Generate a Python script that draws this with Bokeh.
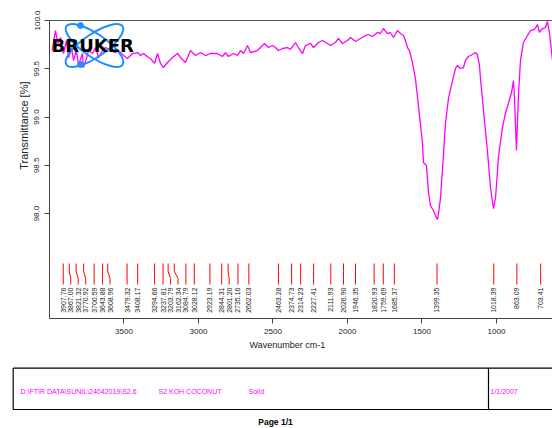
import math
from bokeh.plotting import figure
from bokeh.models import Range1d, LinearAxis, FixedTicker, Title, PrintfTickFormatter
from bokeh.layouts import column
from bokeh.embed import file_html
from bokeh.resources import INLINE
from bokeh.core.properties import value

# ---------------- data ----------------
wavenumber = [3982, 3960, 3944, 3926, 3906, 3886, 3872, 3852, 3839, 3819, 3805, 3779, 3772, 3752,
              3738, 3711, 3691, 3671, 3644, 3624, 3591, 3557, 3537, 3503, 3477, 3443, 3409, 3389,
              3369, 3336, 3322, 3295, 3275, 3255, 3235, 3208, 3175, 3141, 3121, 3087, 3054, 3020,
              2986, 2953, 2920, 2873, 2839, 2819, 2799, 2765, 2738, 2718, 2698, 2671, 2651, 2604,
              2584, 2557, 2530, 2503, 2483, 2463, 2436, 2403, 2383, 2349, 2329, 2302, 2282, 2248,
              2228, 2195, 2168, 2134, 2114, 2081, 2061, 2034, 2000, 1980, 1946, 1913, 1879, 1859,
              1832, 1799, 1779, 1759, 1732, 1712, 1691, 1665, 1644, 1624, 1611, 1597, 1584, 1564,
              1544, 1524, 1497, 1490, 1470, 1456, 1443, 1423, 1410, 1396, 1389, 1376, 1356, 1342,
              1322, 1295, 1275, 1262, 1242, 1222, 1208, 1188, 1161, 1141, 1128, 1114, 1108, 1087,
              1061, 1040, 1020, 1006, 987, 960, 940, 920, 899, 886, 879, 866, 852, 839, 819, 792,
              772, 745, 725, 712, 691, 671, 658, 644, 624]
transmittance = [99.689, 99.896, 99.762, 99.824, 99.658, 99.793, 99.617, 99.720, 99.586, 99.689,
                 99.534, 99.658, 99.513, 99.606, 99.689, 99.658, 99.720, 99.617, 99.689, 99.720,
                 99.689, 99.668, 99.689, 99.637, 99.606, 99.658, 99.668, 99.637, 99.658, 99.617,
                 99.606, 99.555, 99.658, 99.555, 99.513, 99.565, 99.617, 99.658, 99.617, 99.565,
                 99.689, 99.637, 99.668, 99.637, 99.658, 99.658, 99.627, 99.668, 99.627, 99.658,
                 99.637, 99.689, 99.658, 99.741, 99.668, 99.689, 99.720, 99.762, 99.720, 99.741,
                 99.720, 99.689, 99.710, 99.720, 99.700, 99.772, 99.720, 99.658, 99.741, 99.762,
                 99.720, 99.772, 99.793, 99.762, 99.741, 99.772, 99.814, 99.762, 99.793, 99.824,
                 99.782, 99.814, 99.845, 99.855, 99.834, 99.876, 99.865, 99.917, 99.865, 99.876,
                 99.824, 99.896, 99.865, 99.845, 99.793, 99.720, 99.689, 99.565, 99.399, 99.119,
                 98.736, 98.529, 98.498, 98.218, 98.083, 98.032, 97.980, 97.938, 98.001, 98.156,
                 98.601, 98.943, 99.192, 99.378, 99.503, 99.534, 99.503, 99.513, 99.586, 99.627,
                 99.648, 99.668, 99.648, 99.534, 99.409, 99.068, 98.653, 98.270, 98.052, 98.166,
                 98.581, 98.891, 99.037, 99.140, 99.254, 99.378, 99.202, 98.653, 99.244, 99.586,
                 99.772, 99.845, 99.896, 99.907, 99.959, 99.876, 99.917, 99.927, 99.990, 99.865,
                 99.586]

peaks = [3907.76, 3867.00, 3821.32, 3770.92, 3700.59, 3643.88, 3608.96, 3479.32, 3408.17,
         3294.66, 3237.81, 3203.79, 3162.34, 3084.79, 3028.12, 2923.19, 2844.31, 2801.20,
         2735.16, 2662.03, 2463.28, 2374.73, 2314.23, 2227.41, 2111.93, 2026.90, 1946.35,
         1820.93, 1759.69, 1685.37, 1399.35, 1018.39, 863.09, 703.41]
peak_labels = ["%.2f" % v for v in peaks]

x_ticks = [3500, 3000, 2500, 2000, 1500, 1000]
y_ticks = [98.0, 98.5, 99.0, 99.5, 100.0]

x_title = "Wavenumber cm-1"
y_title = "Transmittance [%]"
info_texts = ["D:\\FTIR DATA\\SUNIL\\24042019\\S2.6", "S2  KOH  COCONUT", "Solid", "1/1/2007"]
page_text = "Page 1/1"

# ---------------- layout constants ----------------
FONT = "Liberation Sans"
X_START, X_END = 4000, 624
Y_MIN, Y_MAX = 96.913, 100.0
LINE_TOP, BEND_A, BEND_B, LINE_BOT, LABEL_TOP = 97.483, 97.400, 97.327, 97.265, 97.234
LABEL_GAP = 50.3  # minimum label spacing in cm-1

p = figure(width=552, height=360, x_range=Range1d(X_START, X_END), y_range=Range1d(Y_MIN, Y_MAX),
           output_backend="svg", toolbar_location=None,
           min_border_left=49, min_border_right=0, min_border_top=20, min_border_bottom=42)
p.grid.visible = False
p.outline_line_color = None
p.background_fill_color = "white"
p.frame_align = False

for ax in (p.xaxis[0], p.yaxis[0]):
    ax.axis_line_color = "#444444"
    ax.major_tick_line_color = "#444444"
    ax.major_tick_in = 0
    ax.major_tick_out = 5
    ax.minor_tick_line_color = None
    ax.major_label_text_font = FONT
    ax.major_label_text_font_size = "8px"
    ax.major_label_text_color = "#222222"
p.xaxis[0].ticker = FixedTicker(ticks=x_ticks)
p.xaxis[0].major_label_standoff = 5
p.yaxis[0].ticker = FixedTicker(ticks=y_ticks)
p.yaxis[0].formatter = PrintfTickFormatter(format="%.1f")
p.yaxis[0].major_label_orientation = "vertical"
p.yaxis[0].major_label_standoff = 5

top = LinearAxis(ticker=FixedTicker(ticks=[]), major_label_text_font_size="0px",
                 axis_line_color="#555555", axis_line_width=1.2,
                 major_tick_line_color=None, minor_tick_line_color=None)
p.add_layout(top, "above")

# axis titles as Title annotations (offset like the original)
p.add_layout(Title(text=x_title, align="left", offset=200, standoff=3, text_font=FONT,
                   text_font_size="9px", text_font_style="normal", text_color="#222222"), "below")
p.add_layout(Title(text=y_title, align="right", offset=61, standoff=4, text_font=FONT,
                   text_font_size="11px", text_font_style="normal", text_color="#222222"), "left")

# spectrum
p.line(wavenumber, transmittance, line_color="#ff00ff", line_width=1.3)

# peak markers with de-overlapped labels
label_pos = []
for i, pk in enumerate(peaks):
    if i == 0:
        label_pos.append(pk)
    else:
        label_pos.append(min(pk, label_pos[-1] - LABEL_GAP))
xs = [[pk, pk, lp, lp] for pk, lp in zip(peaks, label_pos)]
ys = [[LINE_TOP, BEND_A, BEND_B, LINE_BOT] for _ in peaks]
p.multi_line(xs, ys, line_color="#ff0000", line_width=1)
p.text(x=label_pos, y=[LABEL_TOP] * len(peaks), text=peak_labels, angle=math.pi / 2,
       text_align="right", text_baseline="middle", text_font=value(FONT),
       text_font_size="7px", text_color="#222222")

# Bruker logo (decoration)
LOGO_W, LOGO_T = 3698, 99.741
p.ellipse(x=[LOGO_W, LOGO_W], y=[LOGO_T, LOGO_T], width=68, height=23, width_units="screen",
          height_units="screen", angle=[0.6, -0.6], fill_color=None, line_color="#1e90ff", line_width=2)
p.scatter(x=[3792, 3792], y=[99.948, 99.544], size=6, color="#1e90ff")
p.text(x=[3710], y=[LOGO_T], text=["BRUKER"], text_align="center", text_baseline="middle",
       text_font=value("DejaVu Sans"), text_font_style="bold", text_font_size="18px", text_color="black")

# ---------------- info box ----------------
p2 = figure(width=552, height=68, x_range=Range1d(0, 552), y_range=Range1d(68, 0),
            output_backend="svg", toolbar_location=None, min_border=0,
            x_axis_location=None, y_axis_location=None)
p2.grid.visible = False
p2.outline_line_color = None
p2.frame_align = False
p2.multi_line([[600, 12.7, 12.7, 600], [488, 488]], [[7.7, 7.7, 49, 49], [7.7, 49]],
              line_color="black", line_width=1.2)
p2.text(x=[20, 158, 248, 490], y=[30.7] * 4, text=info_texts, text_align="left",
        text_baseline="middle", text_font=value(FONT), text_font_size="7px", text_color="#ff00ff")
p2.text(x=[275], y=[61.5], text=[page_text], text_align="center", text_baseline="middle",
        text_font=value(FONT), text_font_style="bold", text_font_size="8.5px", text_color="black")

layout = column(p, p2, spacing=0)
open("out.html", "w").write(file_html(layout, INLINE))
